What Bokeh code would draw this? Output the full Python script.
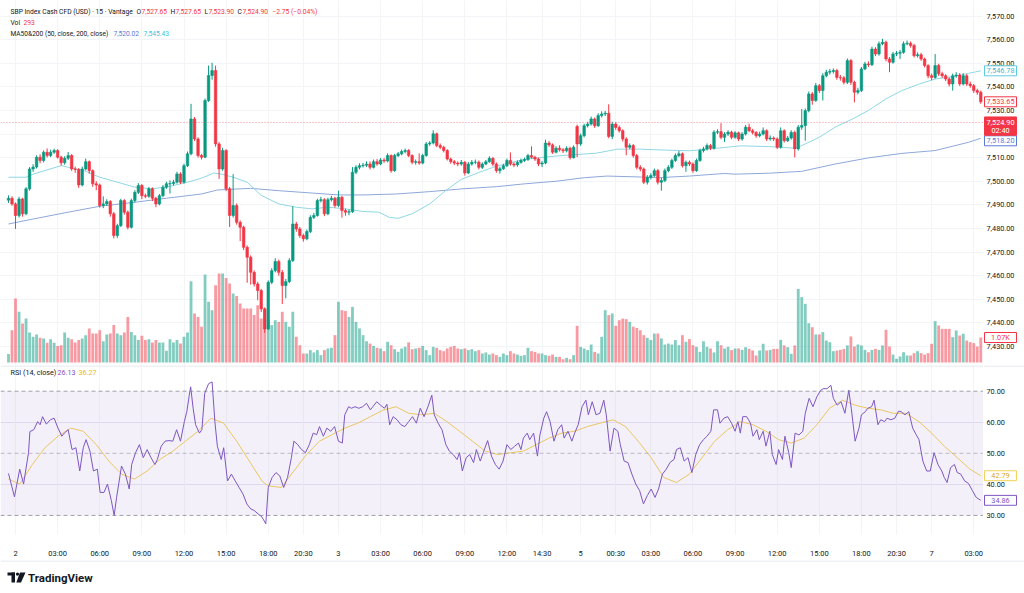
from bokeh.plotting import figure
from bokeh.layouts import column, row
from bokeh.models import Range1d, FixedTicker, Span, BoxAnnotation, Label, Grid
from bokeh.core.properties import value
from bokeh.embed import file_html
from bokeh.resources import INLINE

# ---------------- data: SBP Index Cash CFD, 15-minute bars ----------------
opens = [
    7492.0, 7492.8, 7490.4, 7485.5, 7492.5, 7486.2, 7496.8, 7505.2, 7506.0, 7510.2,
    7508.8, 7512.3, 7510.9, 7512.3, 7513.0, 7510.2, 7507.8, 7509.7, 7510.9, 7505.2,
    7505.0, 7498.4, 7505.2, 7508.3, 7504.5, 7498.9, 7498.4, 7489.7, 7490.4, 7491.4,
    7486.2, 7477.0, 7481.2, 7491.8, 7486.9, 7480.5, 7491.8, 7495.3, 7498.2, 7493.9,
    7493.6, 7496.8, 7492.8, 7490.4, 7493.9, 7497.5, 7498.9, 7499.0, 7499.6, 7503.1,
    7499.6, 7506.6, 7511.6, 7526.4, 7517.9, 7510.9, 7510.2, 7534.2, 7544.8, 7546.9,
    7515.8, 7505.2, 7513.0, 7496.8, 7485.5, 7489.7, 7482.6, 7480.5, 7472.0, 7467.8,
    7461.4, 7456.5, 7453.7, 7445.9, 7437.4, 7457.2, 7462.1, 7466.0, 7461.4, 7455.8,
    7457.5, 7466.4, 7481.9, 7479.8, 7477.0, 7475.6, 7478.7, 7484.7, 7485.5, 7491.8,
    7492.2, 7486.2, 7492.2, 7492.8, 7489.7, 7493.2, 7487.6, 7486.9, 7487.1, 7503.8,
    7505.9, 7506.6, 7506.8, 7507.3, 7505.9, 7508.3, 7507.3, 7509.0, 7508.6, 7510.9,
    7504.5, 7510.9, 7511.6, 7512.6, 7513.0, 7510.9, 7508.0, 7508.3, 7507.7, 7510.9,
    7515.8, 7516.2, 7520.1, 7515.1, 7514.4, 7513.0, 7509.4, 7508.3, 7507.7, 7507.3,
    7508.0, 7503.5, 7507.3, 7508.0, 7508.1, 7505.9, 7507.3, 7508.3, 7509.7, 7507.3,
    7504.5, 7505.3, 7506.6, 7508.8, 7507.3, 7506.9, 7508.0, 7508.8, 7509.2, 7510.9,
    7510.2, 7509.4, 7507.3, 7507.7, 7516.2, 7515.4, 7512.3, 7514.0, 7513.3, 7512.9,
    7514.0, 7510.0, 7523.2, 7515.8, 7519.3, 7523.5, 7524.2, 7526.4, 7523.5, 7527.8,
    7528.5, 7528.8, 7519.0, 7524.2, 7522.8, 7521.4, 7517.9, 7514.4, 7515.1, 7510.9,
    7505.9, 7505.2, 7499.6, 7501.7, 7502.4, 7504.5, 7499.6, 7500.3, 7504.5, 7505.9,
    7508.8, 7510.9, 7511.6, 7506.6, 7508.0, 7507.3, 7504.5, 7508.8, 7513.0, 7513.7,
    7515.1, 7514.0, 7520.8, 7521.0, 7518.6, 7520.0, 7520.8, 7518.6, 7520.5, 7517.9,
    7520.0, 7522.9, 7521.4, 7520.7, 7519.3, 7520.0, 7521.4, 7517.9, 7518.3, 7517.9,
    7514.4, 7521.4, 7517.2, 7518.3, 7520.7, 7513.7, 7522.9, 7523.6, 7529.9, 7537.0,
    7534.2, 7540.5, 7538.4, 7544.7, 7546.2, 7546.5, 7546.9, 7544.0, 7543.8, 7541.9,
    7551.1, 7541.9, 7537.7, 7538.4, 7547.6, 7549.7, 7549.4, 7556.0, 7553.9, 7558.2,
    7558.9, 7551.8, 7550.4, 7553.9, 7554.2, 7554.6, 7558.2, 7558.5, 7557.5, 7553.2,
    7553.6, 7551.8, 7549.0, 7544.7, 7544.0, 7549.0, 7545.5, 7544.7, 7543.3, 7541.2,
    7544.7, 7545.0, 7541.2, 7544.7, 7541.2, 7540.5, 7538.4, 7537.7,
]
highs = [
    7494.0, 7493.6, 7491.0, 7493.4, 7493.0, 7497.5, 7506.0, 7507.2, 7511.0, 7511.4,
    7513.0, 7513.9, 7513.4, 7513.8, 7513.6, 7510.8, 7510.6, 7512.4, 7511.5, 7506.2,
    7505.6, 7506.2, 7509.6, 7508.8, 7505.0, 7500.0, 7499.0, 7493.6, 7492.4, 7492.0,
    7487.0, 7482.0, 7492.6, 7492.4, 7487.6, 7492.6, 7496.2, 7499.2, 7498.8, 7494.8,
    7497.6, 7497.4, 7493.4, 7494.6, 7498.4, 7499.8, 7500.4, 7500.6, 7504.0, 7503.8,
    7507.4, 7512.6, 7532.8, 7527.2, 7518.6, 7511.6, 7535.0, 7549.0, 7550.2, 7549.0,
    7516.6, 7514.2, 7513.6, 7497.6, 7503.0, 7490.6, 7483.4, 7481.2, 7472.8, 7468.6,
    7462.2, 7457.4, 7454.4, 7446.6, 7458.0, 7463.2, 7467.4, 7466.8, 7462.4, 7458.6,
    7467.4, 7489.4, 7482.8, 7480.6, 7477.8, 7479.6, 7485.6, 7486.6, 7492.6, 7493.4,
    7492.8, 7493.0, 7493.8, 7493.4, 7496.0, 7493.8, 7488.4, 7488.0, 7506.0, 7506.8,
    7507.6, 7507.8, 7508.4, 7508.4, 7509.2, 7509.4, 7509.8, 7509.8, 7511.8, 7511.4,
    7511.6, 7512.4, 7513.4, 7513.8, 7513.6, 7511.4, 7509.2, 7511.8, 7511.6, 7516.6,
    7517.0, 7521.6, 7520.6, 7516.0, 7515.0, 7513.6, 7510.0, 7509.0, 7508.4, 7509.0,
    7508.6, 7508.2, 7509.0, 7509.2, 7508.8, 7508.0, 7509.0, 7510.6, 7510.2, 7508.0,
    7506.2, 7507.4, 7509.6, 7512.2, 7508.0, 7508.8, 7509.6, 7510.0, 7511.6, 7514.8,
    7510.8, 7510.0, 7508.6, 7517.6, 7517.0, 7516.0, 7514.8, 7515.2, 7514.0, 7514.8,
    7514.6, 7515.2, 7524.0, 7520.2, 7524.4, 7525.2, 7527.4, 7527.0, 7528.8, 7529.6,
    7529.8, 7532.6, 7525.2, 7525.0, 7523.6, 7522.0, 7518.6, 7516.0, 7515.8, 7511.6,
    7506.8, 7505.8, 7502.6, 7503.4, 7505.4, 7505.2, 7501.4, 7505.4, 7506.8, 7509.6,
    7511.8, 7512.8, 7512.2, 7508.8, 7508.8, 7508.0, 7509.6, 7513.8, 7514.6, 7516.0,
    7515.8, 7521.6, 7522.0, 7524.6, 7520.8, 7521.6, 7521.4, 7521.2, 7521.0, 7520.8,
    7523.8, 7524.4, 7522.2, 7521.2, 7521.0, 7522.8, 7522.0, 7519.4, 7519.0, 7518.6,
    7522.8, 7522.0, 7519.2, 7521.6, 7521.4, 7523.8, 7530.6, 7530.8, 7538.0, 7537.8,
    7541.6, 7541.2, 7545.8, 7547.2, 7547.6, 7547.8, 7547.6, 7545.0, 7544.6, 7552.0,
    7551.8, 7542.6, 7539.6, 7548.4, 7550.6, 7550.8, 7557.0, 7556.8, 7559.2, 7560.3,
    7559.6, 7552.6, 7554.8, 7555.2, 7555.6, 7559.2, 7559.6, 7559.2, 7558.2, 7554.6,
    7554.4, 7552.4, 7549.6, 7545.6, 7553.9, 7549.8, 7546.4, 7545.4, 7544.0, 7545.6,
    7546.2, 7545.8, 7545.8, 7545.4, 7542.2, 7541.2, 7539.2, 7538.4,
]
lows = [
    7490.8, 7489.6, 7479.8, 7484.6, 7485.0, 7485.6, 7496.0, 7504.0, 7505.4, 7507.6,
    7508.0, 7510.0, 7510.2, 7511.6, 7509.6, 7506.6, 7507.0, 7509.0, 7504.4, 7503.6,
    7497.2, 7497.8, 7504.6, 7503.2, 7497.6, 7496.2, 7488.8, 7488.6, 7489.6, 7485.0,
    7475.8, 7476.0, 7480.6, 7485.8, 7479.6, 7480.0, 7491.0, 7494.6, 7492.4, 7492.8,
    7493.0, 7491.6, 7489.0, 7489.8, 7493.2, 7496.8, 7494.8, 7498.2, 7499.0, 7498.8,
    7499.0, 7506.0, 7511.0, 7517.0, 7510.0, 7509.2, 7509.8, 7533.6, 7543.0, 7514.6,
    7501.0, 7504.4, 7495.8, 7480.6, 7484.6, 7481.6, 7474.6, 7470.8, 7457.0, 7456.2,
    7455.4, 7449.6, 7444.6, 7435.8, 7437.0, 7456.4, 7461.4, 7460.0, 7448.0, 7450.4,
    7456.8, 7465.8, 7478.6, 7476.0, 7474.4, 7475.0, 7478.0, 7484.0, 7485.0, 7491.0,
    7485.2, 7485.6, 7491.4, 7488.8, 7489.0, 7484.6, 7485.4, 7485.6, 7486.6, 7503.0,
    7505.0, 7505.8, 7506.0, 7505.0, 7505.4, 7506.6, 7506.8, 7507.8, 7508.0, 7503.6,
    7504.0, 7510.2, 7511.0, 7511.8, 7510.2, 7507.2, 7507.0, 7507.0, 7507.2, 7510.4,
    7515.0, 7515.6, 7514.4, 7513.6, 7512.2, 7508.8, 7507.4, 7506.8, 7506.4, 7506.6,
    7502.4, 7503.0, 7506.6, 7507.2, 7505.0, 7505.2, 7506.8, 7507.8, 7506.4, 7503.6,
    7503.2, 7504.8, 7506.0, 7506.6, 7506.0, 7506.2, 7507.4, 7508.2, 7508.6, 7509.6,
    7508.6, 7506.4, 7506.0, 7507.2, 7514.6, 7511.6, 7511.8, 7512.6, 7512.0, 7512.2,
    7509.2, 7509.6, 7510.2, 7515.0, 7518.6, 7522.8, 7523.6, 7522.6, 7523.0, 7527.0,
    7527.6, 7518.2, 7517.8, 7521.8, 7520.6, 7516.8, 7511.0, 7513.6, 7510.0, 7505.0,
    7504.2, 7498.8, 7498.6, 7500.8, 7501.8, 7498.6, 7496.0, 7499.6, 7503.8, 7505.2,
    7508.2, 7510.2, 7505.8, 7504.0, 7506.4, 7503.6, 7504.0, 7508.2, 7512.2, 7513.0,
    7513.2, 7513.4, 7520.0, 7517.8, 7516.6, 7519.2, 7517.8, 7518.0, 7517.0, 7517.2,
    7519.4, 7520.8, 7519.8, 7518.4, 7518.6, 7519.4, 7517.0, 7517.2, 7517.0, 7513.6,
    7513.8, 7516.4, 7516.6, 7517.6, 7510.1, 7513.0, 7521.8, 7517.2, 7529.2, 7532.4,
    7533.6, 7537.4, 7534.2, 7544.0, 7545.2, 7545.6, 7543.0, 7542.6, 7541.0, 7541.2,
    7540.8, 7533.4, 7536.8, 7537.8, 7547.0, 7548.4, 7548.8, 7553.0, 7553.2, 7557.6,
    7550.8, 7546.2, 7549.8, 7553.0, 7551.8, 7554.0, 7557.6, 7556.6, 7552.4, 7552.4,
    7551.0, 7548.2, 7543.6, 7542.8, 7543.4, 7544.6, 7543.8, 7542.4, 7540.2, 7538.4,
    7543.8, 7540.4, 7540.6, 7540.4, 7539.6, 7537.4, 7536.6, 7532.8,
]
closes = [
    7492.8, 7490.4, 7485.5, 7492.5, 7486.2, 7496.8, 7505.2, 7506.0, 7510.2, 7508.8,
    7512.3, 7510.9, 7512.3, 7513.0, 7510.2, 7507.8, 7509.7, 7510.9, 7505.2, 7505.0,
    7498.4, 7505.2, 7508.3, 7504.5, 7498.9, 7498.4, 7489.7, 7490.4, 7491.4, 7486.2,
    7477.0, 7481.2, 7491.8, 7486.9, 7480.5, 7491.8, 7495.3, 7498.2, 7493.9, 7493.6,
    7496.8, 7492.8, 7490.4, 7493.9, 7497.5, 7498.9, 7499.0, 7499.6, 7503.1, 7499.6,
    7506.6, 7511.6, 7526.4, 7517.9, 7510.9, 7510.2, 7534.2, 7544.8, 7546.9, 7515.8,
    7505.2, 7513.0, 7496.8, 7485.5, 7489.7, 7482.6, 7480.5, 7472.0, 7467.8, 7461.4,
    7456.5, 7453.7, 7445.9, 7437.4, 7457.2, 7462.1, 7466.0, 7461.4, 7455.8, 7457.5,
    7466.4, 7481.9, 7479.8, 7477.0, 7475.6, 7478.7, 7484.7, 7485.5, 7491.8, 7492.2,
    7486.2, 7492.2, 7492.8, 7489.7, 7493.2, 7487.6, 7486.9, 7487.1, 7503.8, 7505.9,
    7506.6, 7506.8, 7507.3, 7505.9, 7508.3, 7507.3, 7509.0, 7508.6, 7510.9, 7504.5,
    7510.9, 7511.6, 7512.6, 7513.0, 7510.9, 7508.0, 7508.3, 7507.7, 7510.9, 7515.8,
    7516.2, 7520.1, 7515.1, 7514.4, 7513.0, 7509.4, 7508.3, 7507.7, 7507.3, 7508.0,
    7503.5, 7507.3, 7508.0, 7508.1, 7505.9, 7507.3, 7508.3, 7509.7, 7507.3, 7504.5,
    7505.3, 7506.6, 7508.8, 7507.3, 7506.9, 7508.0, 7508.8, 7509.2, 7510.9, 7510.2,
    7509.4, 7507.3, 7507.7, 7516.2, 7515.4, 7512.3, 7514.0, 7513.3, 7512.9, 7514.0,
    7510.0, 7514.4, 7515.8, 7519.3, 7523.5, 7524.2, 7526.4, 7523.5, 7527.8, 7528.5,
    7528.8, 7519.0, 7524.2, 7522.8, 7521.4, 7517.9, 7514.4, 7515.1, 7510.9, 7505.9,
    7505.2, 7499.6, 7501.7, 7502.4, 7504.5, 7499.6, 7500.3, 7504.5, 7505.9, 7508.8,
    7510.9, 7511.6, 7506.6, 7508.0, 7507.3, 7504.5, 7508.8, 7513.0, 7513.7, 7515.1,
    7514.0, 7520.8, 7521.0, 7518.6, 7520.0, 7520.8, 7518.6, 7520.5, 7517.9, 7520.0,
    7522.9, 7521.4, 7520.7, 7519.3, 7520.0, 7521.4, 7517.9, 7518.3, 7517.9, 7514.4,
    7521.4, 7517.2, 7518.3, 7520.7, 7513.7, 7522.9, 7523.6, 7529.9, 7537.0, 7534.2,
    7540.5, 7538.4, 7544.7, 7546.2, 7546.5, 7546.9, 7544.0, 7543.8, 7541.9, 7551.1,
    7541.9, 7537.7, 7538.4, 7547.6, 7549.7, 7549.4, 7556.0, 7553.9, 7558.2, 7558.9,
    7551.8, 7550.4, 7553.9, 7554.2, 7554.6, 7558.2, 7558.5, 7557.5, 7553.2, 7553.6,
    7551.8, 7549.0, 7544.7, 7544.0, 7549.0, 7545.5, 7544.7, 7543.3, 7541.2, 7544.7,
    7545.0, 7541.2, 7544.7, 7541.2, 7540.5, 7538.4, 7537.7, 7533.65,
]
volumes = [
    360, 1380, 2740, 2170, 1670, 1880, 1280, 1100, 1200, 1060,
    1030, 840, 1000, 840, 710, 740, 1280, 1060, 1000, 860,
    960, 1030, 1170, 1460, 1240, 1240, 1380, 910, 1200, 1240,
    1600, 1240, 1170, 1280, 1950, 1310, 1170, 960, 1140, 960,
    1000, 860, 960, 860, 860, 500, 1000, 860, 960, 810,
    1100, 1280, 3480, 2100, 1950, 1530, 3770, 2600, 2240, 3310,
    3810, 3810, 3620, 3380, 2950, 2850, 2530, 2310, 2310, 2310,
    2030, 2450, 1880, 2310, 1810, 1600, 1810, 1740, 2170, 1740,
    1530, 2170, 1100, 740, 385, 385, 530, 430, 530, 315,
    530, 600, 630, 1170, 2600, 2240, 2200, 1950, 2380, 1740,
    1460, 1170, 910, 810, 710, 630, 600, 485, 885, 740,
    570, 455, 600, 670, 860, 570, 600, 630, 710, 530,
    315, 670, 630, 530, 485, 600, 670, 710, 600, 570,
    600, 530, 570, 485, 530, 385, 430, 340, 385, 315,
    240, 385, 315, 485, 385, 340, 285, 315, 630, 485,
    455, 385, 385, 315, 285, 340, 240, 240, 140, 200,
    140, 315, 1570, 670, 600, 530, 770, 455, 385, 1100,
    2240, 2030, 2100, 1570, 1810, 1880, 1855, 1740, 1530, 1480,
    1380, 1170, 1055, 960, 1240, 1240, 1030, 770, 810, 770,
    960, 740, 1170, 885, 1000, 740, 670, 455, 910, 670,
    600, 430, 910, 740, 600, 670, 530, 600, 600, 540,
    655, 585, 515, 300, 515, 800, 515, 540, 585, 585,
    970, 730, 655, 370, 730, 3150, 2800, 2510, 1680, 1510,
    1200, 1200, 1300, 940, 870, 485, 510, 540, 585, 730,
    1115, 685, 770, 730, 540, 440, 540, 585, 540, 730,
    1400, 685, 340, 160, 260, 440, 300, 300, 400, 485,
    400, 340, 400, 800, 1770, 1585, 1440, 1440, 1440, 1085,
    1370, 1155, 1230, 940, 870, 830, 685, 1070,
]

# moving averages (bar position, value)
ma50_pos = [0, 5, 7, 15, 21.5, 26, 36, 40.5, 45, 51, 55, 58.5, 60.5, 64, 68, 72, 77, 82, 86.5,
            91, 96, 101, 105.5, 108.5, 111, 115, 120, 124.5, 129, 134, 139, 147, 156, 167.5,
            173.5, 180, 185, 194, 204, 208.5, 216.5, 224, 226, 231, 235.5, 240.5, 245, 250,
            254.5, 259.5, 264, 269, 273.5, 277]
ma50_vals = [7501.7, 7501.7, 7503.0, 7506.6, 7504.5, 7501.7, 7497.5, 7496.8, 7497.5, 7499.6,
             7501.3, 7503.5, 7503.1, 7501.7, 7499.6, 7494.0, 7490.4, 7489.0, 7488.3, 7489.0,
             7488.3, 7487.2, 7486.9, 7484.7, 7484.3, 7486.2, 7490.4, 7496.0, 7500.8, 7503.7,
             7506.4, 7509.3, 7510.7, 7511.9, 7513.6, 7513.6, 7513.3, 7512.9, 7514.3, 7515.0,
             7514.7, 7514.0, 7515.1, 7518.6, 7522.9, 7526.4, 7530.0, 7534.9, 7538.4, 7541.2,
             7543.3, 7544.3, 7545.7, 7546.78]
ma200_pos = [0, 7, 17, 26, 36, 45, 55, 59.5, 69, 77, 86.5, 94, 101, 110.5, 120, 129.5, 139, 147,
             156, 164, 170.5, 180, 185, 194, 204, 207, 216.5, 226, 235.5, 245, 254.5, 264,
             273.5, 277]
ma200_vals = [7481.9, 7484.0, 7486.9, 7489.4, 7491.1, 7492.8, 7494.6, 7496.3, 7497.0, 7496.0,
              7495.0, 7494.2, 7494.2, 7494.6, 7495.6, 7496.8, 7497.7, 7498.9, 7500.0, 7501.5,
              7502.2, 7501.8, 7501.5, 7502.2, 7503.3, 7503.0, 7503.4, 7504.2, 7507.3, 7509.9,
              7511.8, 7513.0, 7516.5, 7518.2]

# RSI(14) and its moving average (bar position, value)
rsi_pos = [0, 1.7, 3.2, 4.3, 5.7, 6.1, 7.2, 8.3, 9.0, 9.7, 10.8, 11.9, 13.0, 14.1, 15.2, 15.9,
           17.0, 18.1, 19.2, 20.3, 21.3, 22.1, 23.2, 24.2, 25.3, 26.1, 27.2, 28.2, 29.3, 30.1,
           30.8, 32.2, 33.3, 34.4, 35.1, 36.2, 37.3, 38.4, 39.5, 40.6, 41.7, 42.4, 43.5, 44.6,
           45.7, 46.8, 47.9, 49.0, 50.1, 50.8, 51.5, 51.9, 52.6, 53.3, 54.4, 55.1, 55.9, 57.0,
           58.0, 58.8, 59.5, 60.6, 61.3, 62.4, 63.5, 64.6, 65.7, 66.8, 67.9, 69.0, 70.0, 71.1,
           72.2, 73.3, 74.0, 75.1, 76.2, 77.3, 78.4, 79.5, 80.6, 81.3, 82.4, 83.5, 84.6, 85.7,
           86.8, 87.8, 88.6, 89.7, 90.7, 91.8, 92.9, 94.0, 95.1, 95.8, 96.9, 97.7, 98.7, 99.8,
           100.9, 102.0, 103.1, 103.8, 104.9, 106.0, 107.1, 107.8, 108.6, 109.6, 110.7, 111.8,
           112.9, 114.0, 115.1, 116.2, 117.3, 118.4, 119.5, 120.6, 121.3, 122.4, 123.5, 124.6,
           125.6, 126.7, 127.8, 128.5, 129.3, 130.4, 131.4, 132.5, 133.3, 134.4, 135.4, 136.5,
           137.6, 138.7, 139.8, 140.9, 142.0, 143.1, 144.2, 145.3, 146.0, 146.7, 147.8, 148.5,
           149.6, 150.7, 151.4, 152.5, 153.3, 154.3, 155.4, 156.5, 157.6, 158.3, 159.4, 160.5,
           161.3, 162.3, 163.4, 164.5, 165.2, 166.3, 167.4, 168.5, 169.6, 170.3, 171.4, 172.5,
           173.6, 174.3, 175.4, 176.5, 177.6, 178.7, 179.8, 180.9, 182.0, 183.1, 184.2, 185.2,
           186.3, 187.4, 188.5, 189.6, 190.3, 191.4, 192.5, 193.6, 194.7, 195.8, 196.9, 198.0,
           199.0, 200.1, 200.9, 202.0, 202.7, 203.8, 204.9, 206.0, 207.0, 207.8, 208.5, 209.2,
           210.3, 211.4, 212.1, 213.2, 213.9, 215.0, 215.8, 216.9, 217.6, 218.7, 219.4, 220.5,
           221.2, 222.3, 223.0, 224.1, 225.2, 226.3, 227.0, 228.1, 229.2, 230.3, 231.4, 232.1,
           233.2, 234.3, 235.0, 236.1, 237.2, 238.3, 239.4, 240.1, 241.2, 242.3, 243.0, 244.1,
           244.8, 245.9, 246.6, 247.7, 248.5, 249.6, 250.3, 251.4, 252.5, 253.6, 254.3, 255.4,
           256.5, 257.6, 258.6, 259.4, 260.5, 261.6, 262.6, 263.7, 264.8, 265.9, 266.6, 267.4,
           268.4, 269.5, 270.3, 271.3, 272.4, 273.5, 274.6, 275.7, 276.4, 277.0]
rsi_vals = [43.5, 36.0, 44.9, 40.1, 50.2, 57.0, 57.6, 60.2, 59.2, 61.8, 59.4, 60.8, 61.3, 58.1,
            55.5, 56.5, 57.6, 51.2, 51.8, 44.3, 51.8, 54.4, 50.7, 44.3, 44.9, 37.4, 37.4, 40.1,
            34.8, 30.0, 35.8, 45.9, 43.3, 38.5, 46.4, 50.2, 52.8, 48.6, 51.2, 48.6, 46.4, 48.0,
            52.3, 53.9, 54.1, 53.9, 57.6, 53.9, 60.2, 63.4, 68.7, 71.4, 64.5, 59.2, 56.5, 57.6,
            69.3, 72.4, 73.0, 60.2, 52.3, 48.0, 51.8, 41.1, 43.3, 41.1, 39.0, 36.9, 33.7, 32.1,
            31.6, 30.5, 29.5, 27.3, 39.0, 42.2, 43.8, 42.7, 39.0, 42.2, 48.6, 53.9, 52.8, 51.2,
            50.2, 52.8, 56.5, 56.0, 58.6, 55.5, 58.1, 57.1, 58.6, 53.9, 53.3, 62.4, 65.0, 64.5,
            65.0, 64.5, 65.0, 66.1, 64.0, 65.0, 66.6, 65.5, 64.5, 65.8, 59.2, 61.8, 60.8, 59.2,
            58.6, 60.2, 61.8, 59.7, 64.5, 61.8, 65.0, 68.7, 62.4, 59.7, 57.6, 52.8, 50.7, 49.6,
            48.0, 50.2, 44.3, 48.6, 49.6, 47.0, 51.2, 47.5, 50.7, 54.1, 49.1, 46.4, 44.9, 47.5,
            52.8, 51.2, 52.3, 53.3, 51.2, 54.9, 56.5, 54.4, 56.5, 49.1, 55.9, 61.3, 63.4, 60.2,
            53.9, 57.6, 59.2, 54.9, 57.1, 53.9, 56.5, 59.2, 65.0, 67.1, 62.4, 66.6, 62.4, 62.9,
            67.1, 62.4, 50.7, 58.1, 57.1, 52.8, 47.5, 47.0, 43.3, 40.1, 38.0, 33.7, 36.4, 38.5,
            35.8, 38.5, 43.3, 44.9, 47.1, 48.0, 51.2, 51.8, 47.5, 48.6, 43.8, 49.6, 52.8, 54.4,
            55.5, 57.1, 64.0, 64.0, 59.7, 61.3, 61.8, 59.7, 57.1, 60.2, 56.5, 61.8, 61.8, 59.7,
            55.5, 57.6, 54.4, 57.1, 52.3, 57.1, 49.6, 46.4, 51.2, 48.0, 55.5, 50.2, 45.4, 56.5,
            55.9, 57.1, 62.9, 67.7, 65.0, 68.2, 70.3, 70.8, 70.8, 71.9, 67.7, 65.5, 66.6, 62.9,
            70.3, 64.5, 53.9, 58.1, 62.4, 63.4, 64.5, 65.0, 67.1, 59.2, 60.8, 60.2, 61.3, 60.8,
            61.3, 63.6, 63.4, 62.4, 63.4, 58.1, 56.0, 54.4, 47.5, 44.3, 44.3, 50.2, 46.4, 44.3,
            42.2, 40.6, 45.4, 46.4, 43.8, 43.3, 41.1, 40.3, 38.0, 35.8, 35.3, 34.86]
rsi_ma_pos = [0, 3.2, 6.8, 10.4, 14.1, 17.7, 21.3, 25.0, 28.6, 32.2, 35.9, 39.5, 43.1, 46.8,
              50.4, 54.0, 57.7, 61.3, 65.0, 68.6, 72.2, 74.0, 77.7, 81.3, 84.9, 88.6, 92.2,
              95.8, 99.5, 103.1, 106.7, 110.4, 114.0, 117.6, 121.3, 124.9, 128.5, 132.2,
              135.8, 139.4, 143.1, 146.7, 150.4, 154.0, 157.6, 161.3, 164.9, 168.5, 172.2,
              175.8, 179.4, 183.1, 186.7, 190.3, 194.0, 197.6, 201.2, 204.9, 208.5, 212.1,
              215.8, 219.4, 223.0, 226.7, 230.3, 233.9, 237.6, 241.2, 244.8, 248.5, 252.1,
              255.7, 259.4, 263.0, 266.6, 270.3, 273.9, 277.0]
rsi_ma_vals = [41.7, 40.1, 46.4, 51.8, 55.5, 58.1, 57.1, 52.8, 47.5, 43.3, 41.7, 44.3, 48.0,
               50.7, 53.9, 57.1, 61.3, 59.7, 53.9, 47.5, 41.1, 39.5, 39.0, 44.3, 49.6, 53.9,
               56.0, 58.1, 59.7, 61.8, 63.9, 65.0, 62.9, 62.4, 62.9, 60.2, 57.1, 53.9, 50.7,
               49.6, 50.2, 50.7, 52.8, 54.9, 56.5, 57.1, 58.6, 59.7, 60.8, 58.6, 53.9, 48.6,
               42.2, 40.6, 43.3, 48.6, 53.9, 57.6, 60.2, 59.2, 57.1, 54.4, 53.3, 54.9, 59.2,
               64.5, 67.1, 65.5, 64.5, 64.0, 62.9, 62.9, 60.2, 56.5, 52.3, 48.6, 44.9, 42.79]

# time axis
tick_pos = [2, 14, 26, 38, 50, 62, 74, 84, 94, 106, 118, 130, 142, 152,
            163, 173, 183, 195, 207, 219, 231, 243, 253, 263, 275]
tick_labels = ["2", "03:00", "06:00", "09:00", "12:00", "15:00", "18:00", "20:30", "3",
               "03:00", "06:00", "09:00", "12:00", "14:30", "5", "00:30", "03:00", "06:00",
               "09:00", "12:00", "15:00", "18:00", "20:30", "7", "03:00"]
price_ticks = [7430, 7440, 7450, 7460, 7470, 7480, 7490, 7500, 7510, 7520, 7530, 7540, 7550, 7560, 7570]
rsi_ticks = [30, 40, 50, 60, 70]

last_price = 7524.90
countdown = "02:40"
last_volume_text = "1.07K"

# ---------------- styling ----------------
FONT = "Roboto"
TXT = "#131722"
UP = "#089981"
DOWN = "#f23645"
GRID = "#f2f4f7"
MA50_C = "#8fd8e4"
MA200_C = "#8ea8da"
RSI_C = "#7e57c2"
RSI_MA_C = "#f5d25a"
SCALE_W = 41          # width of the price-scale strip

# screen geometry: bar i is centred at 8 + 3.51 * i px, plot frame is 983 px wide
BAR_PX, FIRST_PX, FRAME_W = 3.51, 8.0, 983.0
PX_PER_POINT = 2.3607  # price pane: pixels per index point
PX_PER_VOL = 1 / 42.8  # price pane: pixels per contract of volume
PX_PER_RSI = 3.1425    # RSI pane: pixels per RSI point


def bar_at(px):
    return (px - FIRST_PX) / BAR_PX


def price_at(py):
    return 7570 - (py - 15.5) / PX_PER_POINT


def rsi_at(py):
    return 70 - (py - 391.0) / PX_PER_RSI


x_range = Range1d(bar_at(0), bar_at(FRAME_W))

n = len(closes)
idx = list(range(n))
colors = [UP if c >= o else DOWN for o, c in zip(opens, closes)]
body_top = [max(o, c) for o, c in zip(opens, closes)]
body_bot = [min(o, c) for o, c in zip(opens, closes)]


def legend_piece(fig, px, yv, text, color, size="6.7px"):
    fig.add_layout(Label(x=bar_at(px), y=yv, text=text, text_color=color, text_font=FONT,
                         text_font_size=size, text_baseline="middle", text_align="left"))


def bare_figure(**kw):
    f = figure(output_backend="svg", toolbar_location=None, outline_line_color=None, **kw)
    f.grid.visible = False
    return f


def scale_strip(height, y_range, border_bottom=0):
    s = bare_figure(width=SCALE_W, height=height, x_range=Range1d(0, SCALE_W), y_range=y_range,
                    x_axis_location=None, y_axis_location=None, min_border_left=0,
                    min_border_right=0, min_border_top=0, min_border_bottom=border_bottom)
    return s


def scale_labels(s, ticks, fmt):
    s.text(x=[3] * len(ticks), y=ticks, text=[fmt.format(t) for t in ticks],
           text_font=value(FONT), text_font_size="7.3px", text_color=TXT,
           text_baseline="middle", text_align="left")


def tag(s, yv, text, border, px_per_unit, text_color=None, range_name="default", nudge=0.0):
    """Value tag on the scale strip; nudge moves it down (px) to clear a neighbouring tag."""
    yc = yv - nudge / px_per_unit
    s.quad(left=[1], right=[33], top=[yc + 5 / px_per_unit], bottom=[yc - 5 / px_per_unit],
           fill_color="white", line_color=border, line_width=1, y_range_name=range_name)
    s.text(x=[17], y=[yc], text=[text], text_font=value(FONT), text_font_size="7.3px",
           text_color=text_color or border, text_align="center", text_baseline="middle",
           y_range_name=range_name)


# ---------------- price + volume pane ----------------
pa = bare_figure(width=int(FRAME_W), height=365, x_range=x_range,
                 y_range=Range1d(price_at(365), price_at(0)),
                 x_axis_location=None, y_axis_location=None, min_border=0)
vol_range = Range1d(-3 * 42.8, 362 * 42.8)
pa.extra_y_ranges = {"vol": vol_range}
pa.add_layout(Grid(dimension=1, ticker=FixedTicker(ticks=price_ticks), grid_line_color=GRID))
pa.add_layout(Grid(dimension=0, ticker=FixedTicker(ticks=tick_pos), grid_line_color=GRID))

pa.vbar(x=idx, top=volumes, bottom=0, width=0.8, fill_color=colors, fill_alpha=0.5,
        line_color=None, y_range_name="vol")
pa.line(ma200_pos, ma200_vals, line_color=MA200_C, line_width=1)
pa.line(ma50_pos, ma50_vals, line_color=MA50_C, line_width=1)
pa.segment(x0=idx, y0=lows, x1=idx, y1=highs, line_color=colors, line_width=1)
pa.vbar(x=idx, top=body_top, bottom=body_bot, width=0.72, fill_color=colors,
        line_color=colors, line_width=0.6)
pa.add_layout(Span(location=last_price, dimension="width", line_color=DOWN, line_alpha=0.55,
                   line_dash="1 2", line_width=1))

y1, y2, y3 = price_at(11), price_at(22), price_at(33)
legend_piece(pa, 10, y1, "SBP Index Cash CFD (USD) · 15 · Vantage", TXT)
legend_piece(pa, 136, y1, "O", TXT)
legend_piece(pa, 141, y1, "7,527.65", DOWN)
legend_piece(pa, 170, y1, "H", TXT)
legend_piece(pa, 175, y1, "7,527.65", DOWN)
legend_piece(pa, 204, y1, "L", TXT)
legend_piece(pa, 208, y1, "7,523.90", DOWN)
legend_piece(pa, 237, y1, "C", TXT)
legend_piece(pa, 242, y1, "7,524.90", DOWN)
legend_piece(pa, 272, y1, "\u22122.75 (\u22120.04%)", DOWN)
legend_piece(pa, 10, y2, "Vol", TXT)
legend_piece(pa, 23, y2, "293", DOWN)
legend_piece(pa, 10, y3, "MA50&200 (50, close, 200, close)", TXT, size="6.6px")
legend_piece(pa, 113, y3, "7,520.02", "#5a7ad6")
legend_piece(pa, 143, y3, "7,545.43", "#3fc3d9")

sa = scale_strip(365, pa.y_range)
sa.extra_y_ranges = {"vol": vol_range}
scale_labels(sa, price_ticks, "{:,.2f}")
tag(sa, ma50_vals[-1], "{:,.2f}".format(ma50_vals[-1]), "#5fcbe0", PX_PER_POINT, text_color="#3fb9d0")
tag(sa, closes[-1], "{:,.2f}".format(closes[-1]), DOWN, PX_PER_POINT)
tag(sa, ma200_vals[-1], "{:,.2f}".format(ma200_vals[-1]), "#5a7ad6", PX_PER_POINT, nudge=2.5)
tag(sa, volumes[-1], last_volume_text, DOWN, PX_PER_VOL, range_name="vol")
# live price box with the bar countdown underneath
sa.quad(left=[1], right=[33], top=[last_price + 5.5 / PX_PER_POINT],
        bottom=[last_price - 12.8 / PX_PER_POINT], fill_color=DOWN, line_color=DOWN)
sa.text(x=[17, 17], y=[last_price, last_price], text=["{:,.2f}".format(last_price), countdown],
        y_offset=[0, 8.5], text_font=value(FONT), text_font_size="7.3px", text_color="white",
        text_align="center", text_baseline="middle")

# ---------------- RSI pane ----------------
pb = figure(width=int(FRAME_W), height=195, x_range=x_range,
            y_range=Range1d(rsi_at(536), rsi_at(365)),
            output_backend="svg", toolbar_location=None, y_axis_location=None,
            min_border_left=0, min_border_right=0, min_border_top=0, min_border_bottom=24,
            outline_line_color=None)
pb.grid.visible = False
pb.add_layout(BoxAnnotation(bottom=30, top=70, fill_color=RSI_C, fill_alpha=0.09, line_color=None))
pb.add_layout(Grid(dimension=1, ticker=FixedTicker(ticks=[40, 60]), grid_line_color="#e9e5f3"))
pb.add_layout(Grid(dimension=0, ticker=FixedTicker(ticks=tick_pos), grid_line_color=GRID))
pb.xaxis.ticker = FixedTicker(ticks=tick_pos)
pb.xaxis.major_label_overrides = {p: t for p, t in zip(tick_pos, tick_labels)}
pb.xaxis.axis_line_color = None
pb.xaxis.major_tick_line_color = None
pb.xaxis.minor_tick_line_color = None
pb.xaxis.major_label_text_font = FONT
pb.xaxis.major_label_text_font_size = "7.5px"
pb.xaxis.major_label_text_color = TXT
pb.xaxis.major_label_standoff = 8

pb.add_layout(Span(location=rsi_at(365.5), dimension="width", line_color="#e0e3eb", line_width=1))
for lvl, a in ((70, 0.7), (50, 0.45), (30, 0.7)):
    pb.add_layout(Span(location=lvl, dimension="width", line_color="#787b86", line_alpha=a,
                       line_dash="4 3", line_width=1))

pb.line(rsi_ma_pos, rsi_ma_vals, line_color=RSI_MA_C, line_width=1)
pb.line(rsi_pos, rsi_vals, line_color=RSI_C, line_width=1)

yr = rsi_at(372)
legend_piece(pb, 10, yr, "RSI (14, close)", TXT, size="7.2px")
legend_piece(pb, 57, yr, "26.13", RSI_C, size="7.2px")
legend_piece(pb, 78, yr, "36.27", "#e8b923", size="7.2px")

sb = scale_strip(195, pb.y_range, border_bottom=24)
sb.add_layout(Span(location=rsi_at(365.5), dimension="width", line_color="#e0e3eb", line_width=1))
scale_labels(sb, rsi_ticks, "{:.2f}")
tag(sb, rsi_ma_vals[-1], "{:.2f}".format(rsi_ma_vals[-1]), RSI_MA_C, PX_PER_RSI, text_color="#d9a919")
tag(sb, rsi_vals[-1], "{:.2f}".format(rsi_vals[-1]), RSI_C, PX_PER_RSI)

# ---------------- footer with brand mark ----------------
pc = bare_figure(width=1024, height=33, x_range=Range1d(0, 1024), y_range=Range1d(33, 0),
                 x_axis_location=None, y_axis_location=None, min_border=0)
pc.add_layout(Span(location=0.5, dimension="width", line_color="#e0e3eb", line_width=1))
pc.quad(left=[7], right=[14.5], top=[12], bottom=[15], fill_color=TXT, line_color=None)
pc.quad(left=[11], right=[14.5], top=[12], bottom=[22], fill_color=TXT, line_color=None)
pc.circle(x=[17], y=[13.6], radius=1.7, fill_color=TXT, line_color=None)
pc.patch([19.5, 25, 20.5, 15.8], [12, 12, 22, 22], fill_color=TXT, line_color=None)
pc.add_layout(Label(x=27.5, y=17, text="TradingView", text_font=FONT, text_font_style="bold",
                    text_font_size="11.5px", text_color=TXT, text_baseline="middle"))

layout = column(row(pa, sa, spacing=0), row(pb, sb, spacing=0), pc, spacing=0)
open("out.html", "w").write(file_html(layout, INLINE))
